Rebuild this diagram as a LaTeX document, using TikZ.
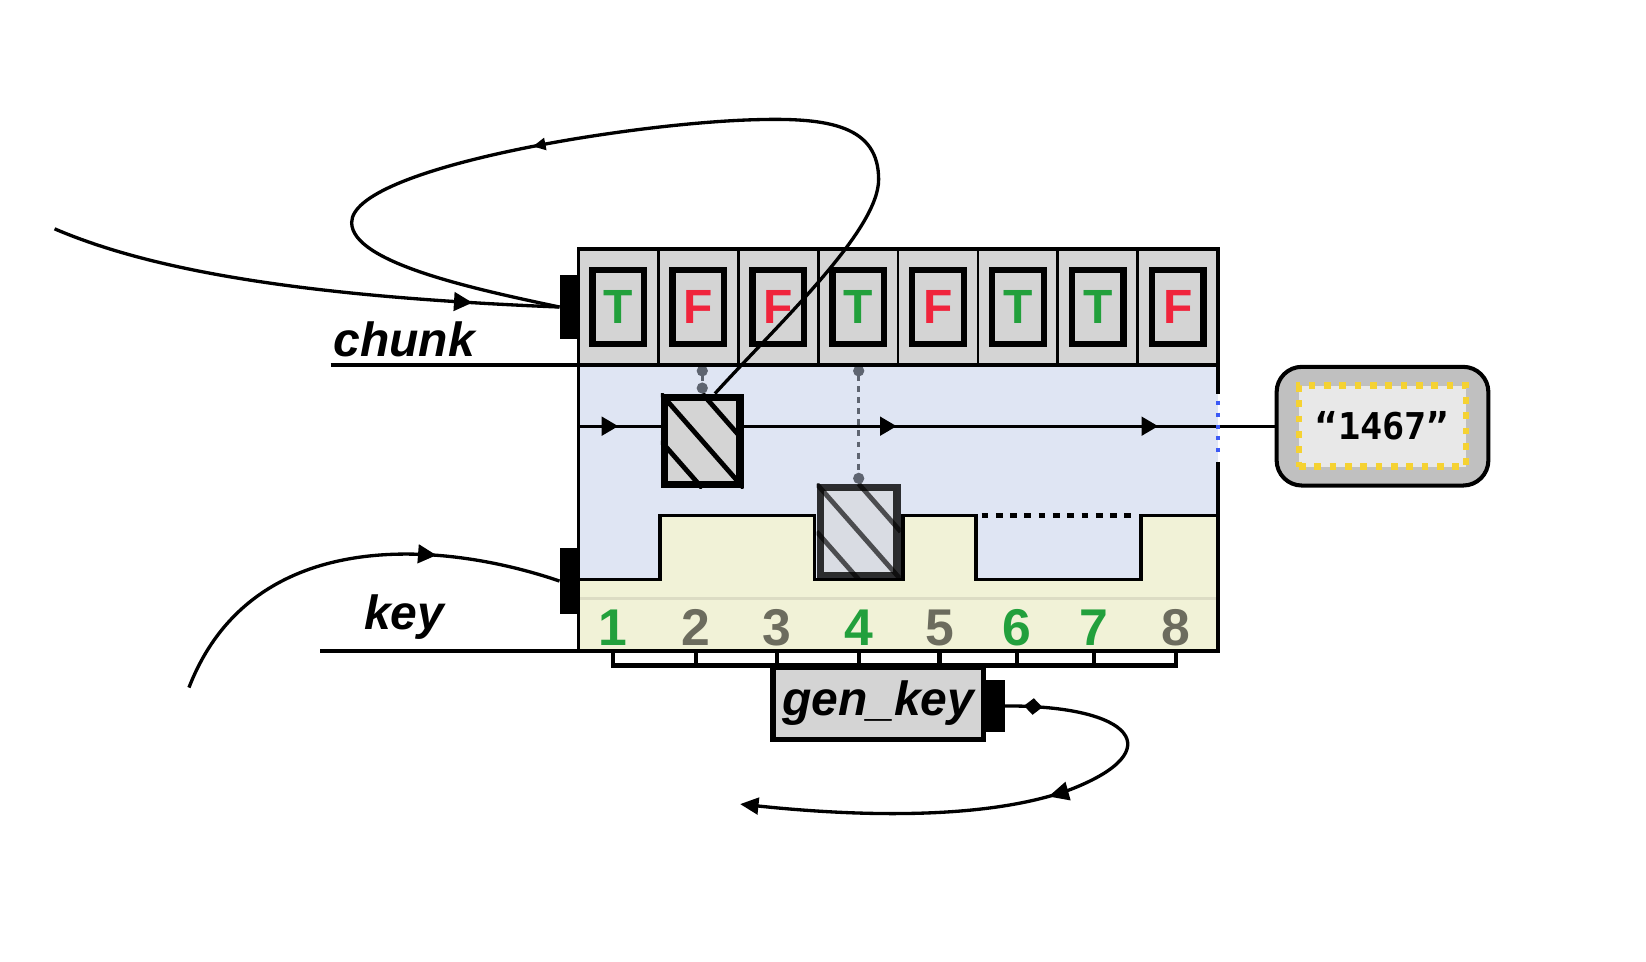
\documentclass[tikz,border=0pt]{standalone}
\usepackage{fontspec}
\setmainfont{Liberation Sans}
\newfontfamily\valfont{DejaVu Sans Mono}
\usetikzlibrary{arrows.meta,decorations.markings}

\definecolor{cellgray}{HTML}{D4D4D4}
\definecolor{tgreen}{HTML}{22A03C}
\definecolor{fred}{HTML}{F0243C}
\definecolor{numgray}{HTML}{6C6C5E}
\definecolor{bluebg}{HTML}{DFE5F3}
\definecolor{yellowbg}{HTML}{F1F2D7}
\definecolor{stripline}{HTML}{DCDCC4}
\definecolor{valgray}{HTML}{C0C0C0}
\definecolor{valin}{HTML}{E8E8E8}
\definecolor{dashyellow}{HTML}{F5D232}
\definecolor{linkgray}{HTML}{5E6470}
\definecolor{dotblue}{HTML}{3C5AF5}

\begin{document}
\begin{tikzpicture}
	[x=0.01cm,y=-0.01cm,
	frame/.style={line width=1pt},
	cell/.style={draw,line width=0.75pt,fill=cellgray,minimum width=0.76125cm,minimum height=1.11cm,inner sep=0pt,outer sep=0pt},
	flag/.style={draw,line width=1.7pt,fill=cellgray,minimum width=0.49cm,minimum height=0.71cm,inner sep=0pt,font=\fontsize{13}{15}\selectfont\bfseries},
	port/.style={fill=black,minimum width=0.18cm,inner sep=0pt,outer sep=0pt},
	slot/.style={draw,line width=2pt,fill=cellgray,minimum width=0.72cm,minimum height=0.83cm,inner sep=0pt},
	hatch/.style={line width=1.3pt},
	num/.style={font=\fontsize{14}{16}\selectfont\bfseries,inner sep=0pt},
	wordlabel/.style={font=\fontsize{13}{15}\selectfont\bfseries\itshape,inner sep=0pt},
	wire/.style={line width=0.9pt},
	midtip/.style={postaction={decorate,decoration={markings,mark=at position #1 with {\arrow{Triangle[length=5pt,width=5pt]}}}}},
	smalltip/.style={postaction={decorate,decoration={markings,mark=at position #1 with {\arrow{Triangle[length=3.5pt,width=3.2pt]}}}}},
	flowtips/.style={postaction={decorate,decoration={markings,
		mark=at position 0.38cm with {\arrow{Triangle[length=4.5pt,width=5pt]}},
		mark=at position 3.03cm with {\arrow{Triangle[length=4.5pt,width=5pt]}},
		mark=at position 5.52cm with {\arrow{Triangle[length=4.5pt,width=5pt]}}}}},
	gentips/.style={postaction={decorate,decoration={markings,
		mark=at position 0.36cm with {\arrow{Diamond[length=5pt,width=4.5pt]}},
		mark=at position 2.25cm with {\arrow{Triangle[length=5.5pt,width=5pt]}}}}},
	link/.style={draw=linkgray,line width=0.7pt,dash pattern=on 1.6pt off 1.4pt,{Circle[length=3pt]}-{Circle[length=3pt]}},
	comb/.style={line width=1.1pt},
	fn/.style={draw,line width=1.4pt,fill=cellgray,minimum width=2cm,minimum height=0.69cm,inner sep=0pt,font=\fontsize{13}{15}\selectfont\bfseries\itshape},
	valbox/.style={draw,line width=1.1pt,fill=valgray,rounded corners=0.24cm,minimum width=2.016cm,minimum height=1.13cm},
	valinner/.style={draw=dashyellow,line width=0.063cm,dash pattern=on 0.063cm off 0.083cm,fill=valin,minimum width=1.59cm,minimum height=0.77cm,inner sep=0pt,font=\valfont\bfseries\fontsize{10}{12}\selectfont}]
	\useasboundingbox (0,0) rectangle (1568,916);

	\fill[bluebg] (551,348) rectangle (1160,620);
	\fill[yellowbg] (551,620) -- (551,552) -- (629,552) -- (629,491) -- (776,491) -- (776,552) -- (860,552) -- (860,491) -- (930,491) -- (930,552) -- (1087,552) -- (1087,491) -- (1160,491) -- (1160,620) -- cycle;
	\draw[stripline,line width=0.03cm] (551,570) -- (1160,570);
	\draw[frame] (551,552) -- (629,552) -- (629,491) -- (776,491) -- (776,552) -- (860,552) -- (860,491) -- (930,491) -- (930,552) -- (1087,552) -- (1087,491) -- (1160,491);
	\draw[line width=1.25pt,dash pattern=on 0.064cm off 0.072cm] (935,491) -- (1082,491);

	\foreach \i/\v/\c in {1/T/tgreen,2/F/fred,3/F/fred,4/T/tgreen,5/F/fred,6/T/tgreen,7/T/tgreen,8/F/fred}
	{
		\node[cell] (c\i) at ({551+76.125*(\i-0.5)},292.5) {};
		\node[flag,text=\c] (f\i) at (c\i) {\v};
	}

	\coordinate (flowin) at (551,406);
	\node[valbox] (val) at (1317,406) {};
	\node[valinner] (valtxt) at (val) {“1467”};
	\draw[wire,flowtips] (flowin) -- (val.west);

	\node[slot] (s1) at (669,420) {};
	\begin{scope}
		\clip (s1.north west) rectangle (s1.south east);
		\draw[hatch] (s1.north west) -- (s1.south east) (s1.north) -- (s1.east) (s1.west) -- (s1.south);
	\end{scope}
	\node[slot,fill opacity=0.5,draw opacity=0.8,minimum width=0.73cm,minimum height=0.84cm] (s2) at (818,506.5) {};
	\begin{scope}
		\clip (s2.north west) rectangle (s2.south east);
		\draw[hatch,opacity=0.65] (s2.north west) -- (s2.south east) (s2.north) -- (s2.east) (s2.west) -- (s2.south);
	\end{scope}

	\draw[link] (s1 |- c2.south) -- (s1.north);
	\draw[link] (s2 |- c4.south) -- (s2.north);

	\foreach \i/\x/\c in {1/584/tgreen,2/663/numgray,3/740/numgray,4/818/tgreen,5/895/numgray,6/969/tgreen,7/1042/tgreen,8/1120/numgray}
		\node[num,text=\c] (n\i) at (\x,598) {\i};

	\coordinate (boxbottom) at (0,620);
	\coordinate (combline) at (0,634);
	\draw[comb] (n1 |- boxbottom) -- (n1 |- combline) -- (n8 |- combline) -- (n8 |- boxbottom);
	\foreach \i in {2,...,7}
		\draw[comb] (n\i |- boxbottom) -- (n\i |- combline);

	\coordinate (chunkbase) at (315,348);
	\coordinate (keybase) at (305,620);
	\draw[frame] (1160,375) -- (1160,237) -- (551,237) -- (551,620) -- (1160,620) -- (1160,440);
	\draw[frame] (chunkbase) -- (1160,348);
	\draw[frame] (keybase) -- (551,620);
	\draw[dotblue,line width=0.038cm,dash pattern=on 0.038cm off 0.076cm] (1160,381.6) -- (1160,431);

	\node[port,minimum height=0.61cm] (cport) at (542,292.5) {};
	\node[port,minimum height=0.62cm] (kport) at (542,553.5) {};
	\node[wordlabel,anchor=base] (chunklbl) at (385,340) {chunk};
	\node[wordlabel,anchor=base] (keylbl) at (385,600) {key};

	\coordinate (srcchunk) at (52,218);
	\coordinate (srckey) at (180,655);
	\draw[wire,midtip=-0.83cm] (srcchunk) .. controls (150,260) and (300,283) .. (cport.west);
	\draw[wire,midtip=-1.2cm] (srckey) .. controls (240,500) and (420,515) .. (kport.west);
	\draw[wire,smalltip=0.6] (s1.75) .. controls (740,310) and (837,220) .. (837,171) .. controls (837,120) and (790,112) .. (721,114) .. controls (600,117) and (335,160) .. (335,212) .. controls (335,250) and (450,275) .. (cport.west);

	\node[fn] (gen) at (836.5,670) {gen\_key};
	\node[port,minimum height=0.50cm] (gport) at (948,672.5) {};
	\coordinate (genout) at (705,766);
	\draw[wire,gentips,-{Triangle[length=5pt,width=4.5pt]}] (gport.east) .. controls (1080,672) and (1115,715) .. (1020,752) .. controls (930,785) and (790,775) .. (genout);
\end{tikzpicture}
\end{document}
